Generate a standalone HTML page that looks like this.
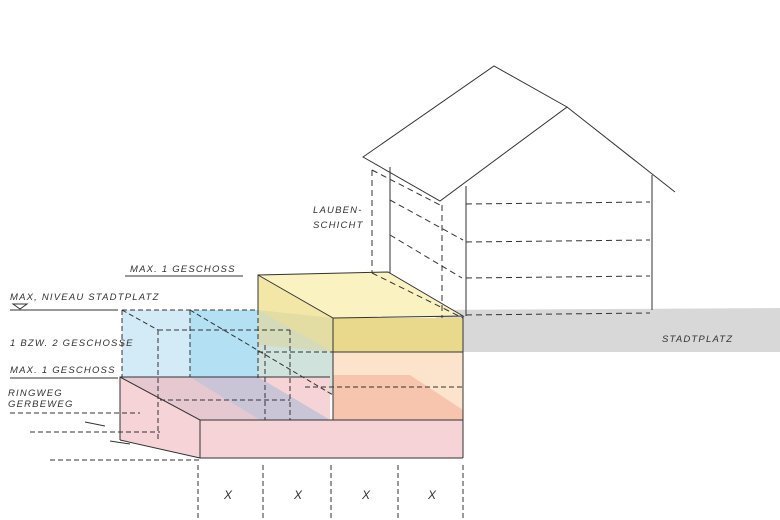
<!DOCTYPE html>
<html><head><meta charset="utf-8"><style>
html,body{margin:0;padding:0;background:#fff}
svg{display:block}
text{font-family:"Liberation Sans",sans-serif;font-style:italic;font-size:9.5px;fill:#333;letter-spacing:1.2px}
</style></head><body>
<svg width="780" height="520" viewBox="0 0 780 520" xmlns="http://www.w3.org/2000/svg">
<g stroke="none">
<!-- gray ground -->
<polygon points="430,310 780,308 780,352 463,352" fill="#d8d8d8"/>
<!-- blue box -->
<rect x="122" y="310" width="136" height="68" fill="#d3ebf7"/>
<rect x="190" y="310" width="68" height="68" fill="#b3e0f2"/>
<polygon points="258,310 333,318 333,395 258,378" fill="#cfe2dc"/>
<!-- pink slab -->
<polygon points="120,377 330,377 330,420 463,420 463,458 200,458 120,440" fill="#f6d3d6"/>
<polygon points="120,377 258,377 330,420 200,420" fill="#e6c8d0"/>
<polygon points="190,377 258,377 330,420 260,420" fill="#c9c4d6"/>
<!-- peach -->
<rect x="333" y="352" width="130" height="68" fill="#fce3cc"/>
<polygon points="333,375 410,375 463,410 463,420 333,420" fill="#f7c5ad"/>
<!-- yellow -->
<polygon points="258,275 388,272 463,316 333,318" fill="#fbf2c2"/>
<polygon points="258,275 333,318 333,352 258,310" fill="#f3e7a8"/>
<rect x="333" y="318" width="130" height="34" fill="#e9d98c"/>
<polygon points="258,310 333,318 333,352 258,345" fill="#d8d6a0" opacity="0.6"/>
</g>
<g fill="none" stroke="#333" stroke-width="1">
<!-- house roof -->
<polygon points="363,157 494,66 567,107 440,201"/>
<polyline points="567,107 675,192"/>
<line x1="466" y1="186" x2="466" y2="316"/>
<line x1="652" y1="175" x2="652" y2="310"/>
<line x1="390" y1="167" x2="390" y2="273"/>
<g stroke-dasharray="6,4">
<line x1="372" y1="170" x2="372" y2="273"/>
<line x1="442" y1="205" x2="442" y2="318"/>
<line x1="372" y1="170" x2="440" y2="205"/>
<line x1="466" y1="204" x2="650" y2="202"/>
<line x1="466" y1="242" x2="650" y2="240"/>
<line x1="466" y1="278" x2="650" y2="276"/>
<line x1="390" y1="200" x2="463" y2="240"/>
<line x1="390" y1="235" x2="462" y2="278"/>
<line x1="466" y1="315" x2="650" y2="313"/>
<line x1="372" y1="273" x2="463" y2="318"/>
</g>
<!-- yellow box -->
<polyline points="258,310 258,275 388,272 463,316 333,318 258,275"/>
<line x1="463" y1="316" x2="463" y2="458"/>
<line x1="333" y1="318" x2="333" y2="420"/>
<line x1="333" y1="352" x2="463" y2="352"/>
<!-- pink slab -->
<polyline points="120,440 120,377 330,377"/>
<polyline points="120,377 200,420 463,420"/>
<polyline points="200,420 200,458 463,458"/>
<line x1="120" y1="440" x2="200" y2="458"/>
<!-- blue box dashed -->
<g stroke-dasharray="5,3">
<line x1="122" y1="310" x2="258" y2="310"/>
<line x1="122" y1="310" x2="122" y2="377"/>
<line x1="190" y1="310" x2="190" y2="377"/>
<line x1="158" y1="330" x2="290" y2="330"/>
<line x1="158" y1="330" x2="158" y2="440"/>
<line x1="122" y1="310" x2="158" y2="330"/>
<line x1="190" y1="310" x2="333" y2="395"/>
<line x1="258" y1="352" x2="333" y2="352"/>
<line x1="258" y1="310" x2="258" y2="378"/>
<line x1="290" y1="330" x2="290" y2="420"/>
<line x1="265" y1="345" x2="265" y2="420"/>
<line x1="160" y1="400" x2="290" y2="400"/>
<line x1="305" y1="387" x2="463" y2="387"/>
<line x1="10" y1="413" x2="140" y2="413"/>
<line x1="30" y1="432" x2="160" y2="432"/>
<line x1="50" y1="460" x2="200" y2="460"/>
<line x1="198" y1="465" x2="198" y2="520"/>
<line x1="263" y1="465" x2="263" y2="520"/>
<line x1="331" y1="465" x2="331" y2="520"/>
<line x1="398" y1="465" x2="398" y2="520"/>
<line x1="463" y1="465" x2="463" y2="520"/>
</g>
<!-- label underlines -->
<line x1="125" y1="276" x2="243" y2="276"/>
<line x1="10" y1="310" x2="118" y2="310"/>
<line x1="10" y1="378" x2="118" y2="378"/>
<polygon points="13,304 27,304 20,309"/>
<line x1="85" y1="422" x2="105" y2="426"/>
<line x1="110" y1="441" x2="130" y2="444"/>
</g>
<text x="130" y="272">MAX. 1 GESCHOSS</text>
<text x="10" y="300">MAX, NIVEAU STADTPLATZ</text>
<text x="10" y="346">1 BZW. 2 GESCHOSSE</text>
<text x="10" y="373">MAX. 1 GESCHOSS</text>
<text x="8" y="396">RINGWEG</text>
<text x="8" y="407">GERBEWEG</text>
<text x="313" y="213">LAUBEN-</text>
<text x="313" y="228">SCHICHT</text>
<text x="662" y="342">STADTPLATZ</text>
<text x="224" y="499" style="font-size:12px">X</text>
<text x="294" y="499" style="font-size:12px">X</text>
<text x="362" y="499" style="font-size:12px">X</text>
<text x="428" y="499" style="font-size:12px">X</text>
</svg>
</body></html>
